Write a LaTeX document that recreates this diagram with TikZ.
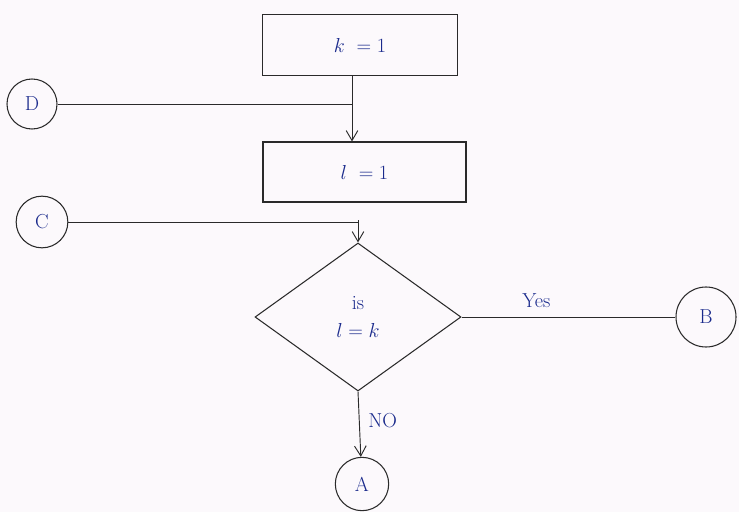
\documentclass[tikz,border=0pt]{standalone}
\usetikzlibrary{shapes.geometric,arrows.meta}
\definecolor{ink}{HTML}{1A2A8C}
\definecolor{paper}{HTML}{FCF9FC}
\definecolor{pen}{HTML}{2A2A2A}
\begin{document}
\begin{tikzpicture}[x=0.03cm,y=-0.03cm,
  every node/.style={text=ink,font=\LARGE},
  procbox/.style={draw=pen,line width=0.9pt,minimum width=5.85cm,minimum height=1.85cm,inner sep=0pt},
  decbox/.style={draw=pen,line width=0.9pt,diamond,minimum width=6.18cm,minimum height=4.44cm,inner sep=0pt,aspect=1.39,align=center},
  conn/.style={draw=pen,line width=0.9pt,minimum size=#1,circle,inner sep=0pt},
  wire/.style={draw=pen,line width=0.8pt},
  arr/.style={wire,-{Straight Barb[length=3mm,width=3.5mm]}}]
\fill[paper] (0,0) rectangle (739,512);
\useasboundingbox (0,0) rectangle (739,512);
\node[procbox] (b1) at (360,45) {$k\ =1$};
\node[procbox,minimum width=6.09cm,minimum height=1.8cm] (b2) at (364.5,172) {$l\ =1$};
\node[decbox] (d) at (358,317) {is\\[2pt] $l=k$};
\node[conn=1.5cm] (D) at (32,104) {D};
\node[conn=1.55cm] (C) at (42,222) {C};
\node[conn=1.8cm] (B) at (706,317) {B};
\node[conn=1.6cm] (A) at (362,484) {A};
\coordinate (j1) at (352,103);
\coordinate (j2) at (358,220);
\draw[wire] (D) -- (D -| j1);
\draw[wire] (b1.south -| j1) -- (j1);
\draw[arr] (j1) -- (b2.north -| j1);
\draw[wire] (C) -- (C -| j2);
\draw[arr] (j2) -- (d.north);
\draw[wire] (d.east) -- node[above,pos=0.35,yshift=4pt] {Yes} (B);
\draw[arr] (d.south) -- node[right,pos=0.45,xshift=4pt] {NO} (A);
\end{tikzpicture}
\end{document}
